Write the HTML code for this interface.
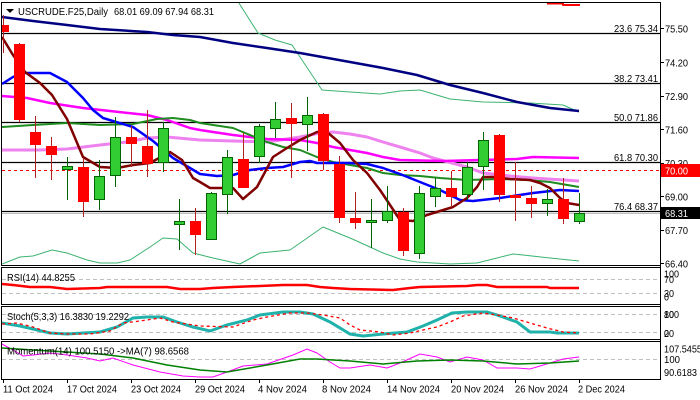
<!DOCTYPE html>
<html><head><meta charset="utf-8"><style>
html,body{margin:0;padding:0;background:#fff;}
svg{display:block;}
text{font-family:"Liberation Sans",sans-serif;font-size:10.5px;fill:#000;}
.g line{stroke:#006400;stroke-width:1}
.g rect{fill:#32CD32;stroke:#006400;stroke-width:1}
.r line{stroke:#B22222;stroke-width:1}
.r rect{fill:#FF0000;stroke:#FF0000;stroke-width:1}
.fib{stroke:#000;stroke-width:1.2}
</style></head><body>
<svg width="700" height="400" viewBox="0 0 700 400" xmlns="http://www.w3.org/2000/svg">
<defs>
<clipPath id="cm"><rect x="2" y="3" width="658" height="262"/></clipPath>
<clipPath id="c1"><rect x="2" y="268" width="658" height="36"/></clipPath>
<clipPath id="c2"><rect x="2" y="307" width="658" height="32"/></clipPath>
<clipPath id="c3"><rect x="2" y="342" width="658" height="37"/></clipPath>
</defs>
<rect width="700" height="400" fill="#fff"/>

<!-- MAIN PANEL -->
<g clip-path="url(#cm)">
<line class="fib" x1="2" y1="33.5" x2="660" y2="33.5"/>
<line class="fib" x1="2" y1="83.5" x2="660" y2="83.5"/>
<line class="fib" x1="2" y1="122.5" x2="660" y2="122.5"/>
<line class="fib" x1="2" y1="162.5" x2="660" y2="162.5"/>
<line class="fib" x1="2" y1="211.5" x2="660" y2="211.5"/>
<line x1="2" y1="213.5" x2="660" y2="213.5" stroke="#C0C0C0" stroke-width="1"/>
<line x1="2" y1="170.5" x2="660" y2="170.5" stroke="#FF0000" stroke-width="1" stroke-dasharray="3,3"/>

<g fill="none" stroke-linejoin="round">
<polyline stroke="#3CB371" stroke-width="1" points="237,0 258,33 275,40 292,45 300,57 322,90 350,92 380,94 400,91 420,90 450,99 483,102 530,103 563,105 579,112"/>
<polyline stroke="#3CB371" stroke-width="1" points="2,264 20,257 33,256 52,250 67,253 87,260 100,263 117,263 130,260 150,247 163,238 177,239 193,253 213,258 240,264 260,253 290,250 323,227 350,238 370,247 383,253 400,259 417,262 450,264 477,263 497,258 513,254 523,255 550,258 579,261"/>
<polyline stroke="#000080" stroke-width="2.5" points="2,17 33,21 67,25 100,29 147,32 173,35 200,37 233,43 267,48 300,53 350,62 383,68 417,75 450,85 483,93 517,102 550,108 579,111"/>
<polyline stroke="#EE82EE" stroke-width="3" points="2,150 40,150 67,149 100,145 127,142 147,138 167,137 200,140 233,141 267,142 300,137 320,133 333,132 350,134 367,137 383,142 400,147 420,153 433,158 467,167 483,173 510,176 533,178 579,181"/>
<polyline stroke="#FF00FF" stroke-width="2.5" points="2,96 27,98 50,103 83,108 110,111 147,115 167,120 190,128 200,130 233,135 267,139 300,140 317,143 333,147 350,150 367,153 383,157 400,160 443,161 517,159 533,157 579,158"/>
<polyline stroke="#1E8C1E" stroke-width="2" points="2,127 33,125 67,123 100,125 133,124 157,119 173,118 190,120 200,123 233,128 267,142 283,147 300,150 317,157 333,162 350,165 367,168 383,173 400,175 420,176 440,178 467,180 500,179 527,180 550,182 579,187"/>
<polyline stroke="#0000FF" stroke-width="2.5" points="2,84 13,77 23,73 50,73 67,82 83,98 93,110 103,118 133,127 153,141 173,158 190,168 200,174 217,176 233,175 250,170 267,168 283,167 300,162 310,161 317,163 350,163 367,164 383,168 400,174 420,182 440,190 460,200 473,201 500,198 533,193 560,190 579,191"/>
<polyline stroke="#800000" stroke-width="2.5" points="2,37 13,55 25,72 40,83 52,95 67,119 75,138 83,157 100,167 117,168 133,165 150,163 170,152 182,160 193,178 200,182 210,188 233,188 243,199 257,187 273,157 287,148 300,140 317,132 327,132 340,143 353,160 367,173 380,190 392,208 400,220 413,221 427,215 440,211 453,207 467,198 477,187 483,177 493,177 510,179 530,180 540,183 550,188 560,198 567,203 579,205"/>
<polyline stroke="#FF0000" stroke-width="2" points="547,3.5 563,3.5 563,5 580,5"/>
</g>

<!-- candles (foreground) -->
<g class="r"><line x1="3.5" y1="15" x2="3.5" y2="53"/><rect x="-1.5" y="25.5" width="10" height="6"/></g>
<g class="r"><line x1="19.5" y1="43" x2="19.5" y2="122"/><rect x="14.5" y="44.5" width="10" height="75"/></g>
<g class="r"><line x1="35.5" y1="116" x2="35.5" y2="178"/><rect x="30.5" y="132.5" width="10" height="12"/></g>
<g class="r"><line x1="51.5" y1="137" x2="51.5" y2="180"/><rect x="46.5" y="146.5" width="10" height="8"/></g>
<g class="g"><line x1="67.5" y1="157" x2="67.5" y2="200"/><rect x="62.5" y="166.5" width="10" height="3"/></g>
<g class="r"><line x1="83.5" y1="158" x2="83.5" y2="217"/><rect x="78.5" y="167.5" width="10" height="34"/></g>
<g class="g"><line x1="99.5" y1="160" x2="99.5" y2="210"/><rect x="94.5" y="176.5" width="10" height="23"/></g>
<g class="g"><line x1="115.5" y1="117" x2="115.5" y2="187"/><rect x="110.5" y="137.5" width="10" height="38"/></g>
<g class="r"><line x1="131.5" y1="126" x2="131.5" y2="167"/><rect x="126.5" y="137.5" width="10" height="6"/></g>
<g class="r"><line x1="147.5" y1="110" x2="147.5" y2="177"/><rect x="142.5" y="146.5" width="10" height="17"/></g>
<g class="g"><line x1="163.5" y1="122" x2="163.5" y2="172"/><rect x="158.5" y="128.5" width="10" height="34"/></g>
<g class="g"><line x1="179.5" y1="199" x2="179.5" y2="250"/><rect x="174.5" y="221.5" width="10" height="3"/></g>
<g class="r"><line x1="195.5" y1="208" x2="195.5" y2="255"/><rect x="190.5" y="221.5" width="10" height="13"/></g>
<g class="g"><line x1="211.5" y1="192" x2="211.5" y2="240"/><rect x="206.5" y="193.5" width="10" height="46"/></g>
<g class="g"><line x1="227.5" y1="150" x2="227.5" y2="214"/><rect x="222.5" y="157.5" width="10" height="37"/></g>
<g class="r"><line x1="243.5" y1="133" x2="243.5" y2="187"/><rect x="238.5" y="159.5" width="10" height="28"/></g>
<g class="g"><line x1="259.5" y1="124" x2="259.5" y2="163"/><rect x="254.5" y="126.5" width="10" height="30"/></g>
<g class="g"><line x1="275.5" y1="102" x2="275.5" y2="138"/><rect x="270.5" y="119.5" width="10" height="9"/></g>
<g class="r"><line x1="291.5" y1="103" x2="291.5" y2="178"/><rect x="286.5" y="118.5" width="10" height="5"/></g>
<g class="g"><line x1="307.5" y1="97" x2="307.5" y2="151"/><rect x="302.5" y="115.5" width="10" height="9"/></g>
<g class="r"><line x1="323.5" y1="113" x2="323.5" y2="170"/><rect x="318.5" y="114.5" width="10" height="46"/></g>
<g class="r"><line x1="339.5" y1="156" x2="339.5" y2="223"/><rect x="334.5" y="164.5" width="10" height="53"/></g>
<g class="r"><line x1="355.5" y1="192" x2="355.5" y2="229"/><rect x="350.5" y="218.5" width="10" height="4"/></g>
<g class="g"><line x1="371.5" y1="199" x2="371.5" y2="248"/><rect x="366.5" y="220.5" width="10" height="2"/></g>
<g class="g"><line x1="387.5" y1="186" x2="387.5" y2="223"/><rect x="382.5" y="211.5" width="10" height="9"/></g>
<g class="r"><line x1="403.5" y1="208" x2="403.5" y2="256"/><rect x="398.5" y="212.5" width="10" height="38"/></g>
<g class="g"><line x1="419.5" y1="186" x2="419.5" y2="259"/><rect x="414.5" y="193.5" width="10" height="60"/></g>
<g class="g"><line x1="435.5" y1="178" x2="435.5" y2="207"/><rect x="430.5" y="188.5" width="10" height="8"/></g>
<g class="r"><line x1="451.5" y1="171" x2="451.5" y2="207"/><rect x="446.5" y="188.5" width="10" height="8"/></g>
<g class="g"><line x1="467.5" y1="162" x2="467.5" y2="200"/><rect x="462.5" y="167.5" width="10" height="27"/></g>
<g class="g"><line x1="483.5" y1="132" x2="483.5" y2="190"/><rect x="478.5" y="140.5" width="10" height="26"/></g>
<g class="r"><line x1="499.5" y1="134" x2="499.5" y2="202"/><rect x="494.5" y="135.5" width="10" height="59"/></g>
<g class="r"><line x1="515.5" y1="162" x2="515.5" y2="221"/><rect x="510.5" y="195.5" width="10" height="2"/></g>
<g class="r"><line x1="531.5" y1="186" x2="531.5" y2="218"/><rect x="526.5" y="198.5" width="10" height="5"/></g>
<g class="g"><line x1="547.5" y1="189" x2="547.5" y2="216"/><rect x="542.5" y="199.5" width="10" height="4"/></g>
<g class="r"><line x1="563.5" y1="178" x2="563.5" y2="224"/><rect x="558.5" y="199.5" width="10" height="19"/></g>
<g class="g"><line x1="579.5" y1="193" x2="579.5" y2="224"/><rect x="574.5" y="213.5" width="10" height="8"/></g>
</g>

<!-- fib labels -->
<text x="614" y="32" textLength="44" lengthAdjust="spacingAndGlyphs">23.6 75.34</text>
<text x="614" y="82" textLength="44" lengthAdjust="spacingAndGlyphs">38.2 73.41</text>
<text x="614" y="121" textLength="44" lengthAdjust="spacingAndGlyphs">50.0 71.86</text>
<text x="614" y="161" textLength="44" lengthAdjust="spacingAndGlyphs">61.8 70.30</text>
<text x="614" y="210" textLength="44" lengthAdjust="spacingAndGlyphs">76.4 68.37</text>

<!-- title -->
<polygon points="6,9 14,9 10,13" fill="#000"/>
<text x="18" y="15" textLength="90" lengthAdjust="spacingAndGlyphs">USCRUDE.F25,Daily</text>
<text x="114" y="15" textLength="100" lengthAdjust="spacingAndGlyphs">68.01 69.09 67.94 68.31</text>

<!-- right axis main -->
<g stroke="#000" stroke-width="1">
<line x1="660" y1="28.5" x2="664" y2="28.5"/>
<line x1="660" y1="62.5" x2="664" y2="62.5"/>
<line x1="660" y1="96.5" x2="664" y2="96.5"/>
<line x1="660" y1="129.5" x2="664" y2="129.5"/>
<line x1="660" y1="163.5" x2="664" y2="163.5"/>
<line x1="660" y1="196.5" x2="664" y2="196.5"/>
<line x1="660" y1="230.5" x2="664" y2="230.5"/>
<line x1="660" y1="263.5" x2="664" y2="263.5"/>
</g>
<text x="665" y="32.5" textLength="23" lengthAdjust="spacingAndGlyphs">75.50</text>
<text x="665" y="66.5" textLength="23" lengthAdjust="spacingAndGlyphs">74.20</text>
<text x="665" y="100" textLength="23" lengthAdjust="spacingAndGlyphs">72.90</text>
<text x="665" y="133.5" textLength="23" lengthAdjust="spacingAndGlyphs">71.60</text>
<text x="665" y="167" textLength="23" lengthAdjust="spacingAndGlyphs">70.30</text>
<text x="665" y="200.5" textLength="23" lengthAdjust="spacingAndGlyphs">69.00</text>
<text x="665" y="234" textLength="23" lengthAdjust="spacingAndGlyphs">67.70</text>
<text x="665" y="267.5" textLength="23" lengthAdjust="spacingAndGlyphs">66.40</text>
<rect x="661" y="164" width="39" height="13" fill="#FF0000"/>
<text x="665" y="174.5" textLength="23" lengthAdjust="spacingAndGlyphs" style="fill:#fff">70.00</text>
<rect x="661" y="207" width="39" height="12" fill="#000"/>
<text x="665" y="217" textLength="23" lengthAdjust="spacingAndGlyphs" style="fill:#fff">68.31</text>

<!-- RSI panel -->
<g clip-path="url(#c1)">
<line x1="2" y1="279.5" x2="660" y2="279.5" stroke="#C0C0C0" stroke-dasharray="4,3"/>
<line x1="2" y1="293.5" x2="660" y2="293.5" stroke="#C0C0C0" stroke-dasharray="4,3"/>
<polyline fill="none" stroke="#FF0000" stroke-width="2.5" points="2,284 13,285 30,287 50,287 67,289 100,288 107,287 133,287 167,287 180,289 200,289 213,288 233,287 260,286 283,285 307,285 320,287 333,288 350,289 393,290 410,288 420,287 467,286 477,285 487,285 497,287 547,287 550,288 579,288"/>
</g>
<text x="7" y="281" textLength="68" lengthAdjust="spacingAndGlyphs">RSI(14) 44.8255</text>
<text x="664" y="277.5" textLength="15" lengthAdjust="spacingAndGlyphs">100</text>
<text x="664" y="283" textLength="10" lengthAdjust="spacingAndGlyphs">70</text>
<text x="664" y="297" textLength="10" lengthAdjust="spacingAndGlyphs">30</text>
<text x="664" y="300.5" textLength="5" lengthAdjust="spacingAndGlyphs">0</text>

<!-- Stoch panel -->
<g clip-path="url(#c2)">
<line x1="2" y1="314.5" x2="660" y2="314.5" stroke="#C0C0C0" stroke-dasharray="4,3"/>
<line x1="2" y1="332.5" x2="660" y2="332.5" stroke="#C0C0C0" stroke-dasharray="4,3"/>
<polyline fill="none" stroke="#20B2AA" stroke-width="3" points="2,323 20,326 33,329 50,333 67,334 83,333 100,332 117,327 133,318 147,317 163,317 177,322 193,327 210,331 227,325 247,320 260,315 283,312 300,312 313,314 330,322 350,334 363,336 383,334 407,332 423,326 437,320 452,313 467,312 487,312 497,315 517,322 530,332 550,332 557,333 579,333"/>
<polyline fill="none" stroke="#FF0000" stroke-width="1.3" stroke-dasharray="3,3" points="2,324 17,323 33,327 50,333 67,334 90,334 110,331 123,323 140,321 160,318 173,322 200,326 233,327 253,320 267,317 290,313 307,313 323,315 340,318 350,325 360,330 380,332 393,335 410,333 423,330 437,327 450,322 463,316 483,313 497,315 513,318 530,323 547,328 563,332 579,333"/>
</g>
<text x="7" y="320" textLength="122" lengthAdjust="spacingAndGlyphs">Stoch(5,3,3) 16.3830 19.2292</text>
<text x="664" y="318" textLength="15" lengthAdjust="spacingAndGlyphs">100</text>
<text x="664" y="318" textLength="10" lengthAdjust="spacingAndGlyphs">80</text>
<text x="664" y="337" textLength="10" lengthAdjust="spacingAndGlyphs">20</text>
<text x="664" y="337" textLength="5" lengthAdjust="spacingAndGlyphs">0</text>

<!-- Momentum panel -->
<g clip-path="url(#c3)">
<line x1="2" y1="359.5" x2="660" y2="359.5" stroke="#C0C0C0" stroke-dasharray="4,3"/>
<polyline fill="none" stroke="#FF00FF" stroke-width="1" points="2,344 13,350 23,356 33,355 50,353 67,355 87,358 100,361 113,358 133,365 160,372 183,376 200,377 213,377 227,372 243,366 267,364 293,355 307,349 317,353 330,362 340,368 350,368 370,365 387,368 400,363 420,354 437,357 450,362 467,357 483,360 497,368 517,368 530,369 550,363 563,359 579,357"/>
<polyline fill="none" stroke="#008000" stroke-width="1.5" points="2,348 33,350 67,352 100,354 133,358 167,365 200,370 227,372 267,365 300,359 317,359 333,360 350,361 383,364 417,361 450,360 483,361 517,364 550,363 579,361"/>
</g>
<text x="7" y="354.5" textLength="182" lengthAdjust="spacingAndGlyphs">Momentum(14) 100.5150  -&gt;MA(7) 98.6568</text>
<text x="664" y="352.5" textLength="38" lengthAdjust="spacingAndGlyphs">107.5455</text>
<text x="664" y="363" textLength="16" lengthAdjust="spacingAndGlyphs">100</text>
<text x="664" y="376" textLength="33" lengthAdjust="spacingAndGlyphs">90.6183</text>

<!-- panel frames -->
<g fill="none" stroke="#000" stroke-width="1">
<rect x="1.5" y="2.5" width="659" height="263"/>
<rect x="1.5" y="267.5" width="659" height="37"/>
<rect x="1.5" y="306.5" width="659" height="33"/>
<rect x="1.5" y="341.5" width="659" height="38"/>
<line x1="660.5" y1="2" x2="660.5" y2="380"/>
</g>

<!-- x axis ticks -->
<g stroke="#000" stroke-width="1">
<line x1="3.5" y1="379" x2="3.5" y2="383"/>
<line x1="67.5" y1="379" x2="67.5" y2="383"/>
<line x1="131.5" y1="379" x2="131.5" y2="383"/>
<line x1="195.5" y1="379" x2="195.5" y2="383"/>
<line x1="259.5" y1="379" x2="259.5" y2="383"/>
<line x1="323.5" y1="379" x2="323.5" y2="383"/>
<line x1="387.5" y1="379" x2="387.5" y2="383"/>
<line x1="451.5" y1="379" x2="451.5" y2="383"/>
<line x1="515.5" y1="379" x2="515.5" y2="383"/>
<line x1="579.5" y1="379" x2="579.5" y2="383"/>
</g>
<text x="3" y="392.5" textLength="50" lengthAdjust="spacingAndGlyphs">11 Oct 2024</text>
<text x="67" y="392.5" textLength="50" lengthAdjust="spacingAndGlyphs">17 Oct 2024</text>
<text x="131" y="392.5" textLength="50" lengthAdjust="spacingAndGlyphs">23 Oct 2024</text>
<text x="195" y="392.5" textLength="50" lengthAdjust="spacingAndGlyphs">29 Oct 2024</text>
<text x="258" y="392.5" textLength="49" lengthAdjust="spacingAndGlyphs">4 Nov 2024</text>
<text x="322" y="392.5" textLength="49" lengthAdjust="spacingAndGlyphs">8 Nov 2024</text>
<text x="387" y="392.5" textLength="53" lengthAdjust="spacingAndGlyphs">14 Nov 2024</text>
<text x="451" y="392.5" textLength="53" lengthAdjust="spacingAndGlyphs">20 Nov 2024</text>
<text x="515" y="392.5" textLength="53" lengthAdjust="spacingAndGlyphs">26 Nov 2024</text>
<text x="578" y="392.5" textLength="47" lengthAdjust="spacingAndGlyphs">2 Dec 2024</text>
</svg>
</body></html>
